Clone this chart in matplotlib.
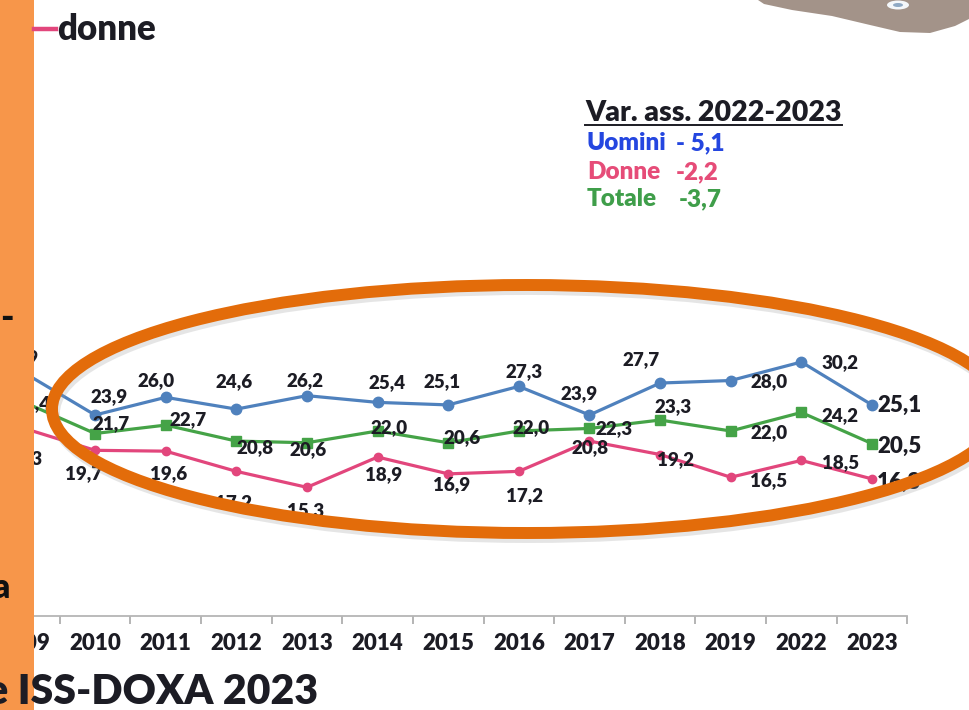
import matplotlib
matplotlib.use("Agg")
import matplotlib.pyplot as plt
from matplotlib.patches import Ellipse, Rectangle, Polygon
from matplotlib.lines import Line2D

plt.rcParams['font.family'] = ['Lato', 'DejaVu Sans']

# ---- data -------------------------------------------------------------
years = ['2009', '2010', '2011', '2012', '2013', '2014', '2015',
         '2016', '2017', '2018', '2019', '2022', '2023']
uomini = [28.9, 23.9, 26.0, 24.6, 26.2, 25.4, 25.1, 27.3, 23.9, 27.7, 28.0, 30.2, 25.1]
donne = [22.3, 19.7, 19.6, 17.2, 15.3, 18.9, 16.9, 17.2, 20.8, 19.2, 16.5, 18.5, 16.3]
totale = [25.4, 21.7, 22.7, 20.8, 20.6, 22.0, 20.6, 22.0, 22.3, 23.3, 22.0, 24.2, 20.5]

var_title = 'Var. ass. 2022-2023'
var_names = ['Uomini', 'Donne', 'Totale']
var_values = ['- 5,1', '-2,2', '-3,7']

legend_label = 'donne'
source_label = 'Indagine ISS-DOXA 2023'

# ---- styling ----------------------------------------------------------
C_BLUE = '#4F81BD'
C_PINK = '#E2467C'
C_GREEN = '#45A347'
C_TEXT = '#1C1C24'
C_ORANGE_BAR = '#F7964A'
C_RING = '#E36C0A'
var_colors = ['#2446E0', '#E64C78', '#3F9E4A']
HEAVY = 'heavy'

# label offsets in pixels (dx right, dy down) from each point
off_u = [(-4, -15), (14, -18), (-10, -17), (-2, -28), (-2, -15), (9, -20), (-6, -23),
         (5, -15), (-10, -21), (-19, -23), (38, 1), (39, 1), (5, 0)]
off_t = [(8, 1), (16, -10), (22, -5), (19, 7), (1, 7), (11, -3), (14, -5),
         (12, -3), (25, 0), (13, -13), (38, 2), (39, 3), (5, 3)]
off_d = [(0, 30), (-11, 23), (3, 22), (-3, 31), (-1, 23), (6, 18), (3, 11),
         (6, 24), (1, 7), (15, 5), (38, 3), (39, 2), (5, 3)]

W, H = 969, 710
fig = plt.figure(figsize=(W / 100, H / 100), dpi=100)
fig.patch.set_facecolor('white')

# main chart axes (pixel geometry: x from -11 to 907, baseline at y=616)
px_per_unit = 8.41
ymax = 40
ax_left, ax_right, ax_base = -10.9, 907.3, 616
ax = fig.add_axes([ax_left / W, (H - ax_base) / H,
                   (ax_right - ax_left) / W, ymax * px_per_unit / H])
ax.set_xlim(-0.5, len(years) - 0.5)
ax.set_ylim(0, ymax)
ax.patch.set_alpha(0)
for s in ['top', 'right', 'left']:
    ax.spines[s].set_visible(False)
ax.spines['bottom'].set_color('#B5B5B5')
ax.spines['bottom'].set_linewidth(1.3)
ax.set_yticks([])

x = list(range(len(years)))
ax.set_xticks(x)
ax.set_xticklabels(years, fontsize=16, fontweight=HEAVY, color=C_TEXT)
ax.tick_params(axis='x', which='major', length=0, pad=12)
ax.set_xticks([i - 0.5 for i in range(len(years) + 1)], minor=True)
ax.tick_params(axis='x', which='minor', length=6, width=1.2, color='#A8A8A8', direction='out')

series = [
    (uomini, C_BLUE, 'o', 7.5, off_u),
    (totale, C_GREEN, 's', 7, off_t),
    (donne, C_PINK, 'o', 6, off_d),
]
for vals, col, mk, ms, offs in series:
    ax.plot(x, vals, color=col, lw=2.3, marker=mk, ms=ms, mec=col, mfc=col,
            clip_on=False, zorder=3)
    for i, v in enumerate(vals):
        dx, dy = offs[i]
        last = i == len(vals) - 1
        ax.annotate(f'{v:.1f}'.replace('.', ','), (x[i], v),
                    xytext=(dx, -dy), textcoords='offset pixels',
                    ha='left' if last else 'center', va='center',
                    fontsize=16 if last else 13.5, fontweight=HEAVY,
                    color=C_TEXT, zorder=4, annotation_clip=False)

# ---- overlay in pixel coordinates --------------------------------------
ov = fig.add_axes([0, 0, 1, 1], zorder=10)
ov.set_xlim(0, W)
ov.set_ylim(H, 0)
ov.axis('off')

# highlight ring with soft shadow
ov.add_patch(Ellipse((529, 413), 950, 248, fill=False, lw=8.6,
                     ec='#9A9A9A', alpha=0.25))
ov.add_patch(Ellipse((527, 409), 950, 248, fill=False, lw=8.6, ec=C_RING))

# orange side band
ov.add_patch(Rectangle((0, 0), 34, H, color=C_ORANGE_BAR, lw=0, zorder=5))
ov.text(14, 318, '-', fontsize=26, fontweight=HEAVY, color='#111111',
        ha='right', va='center', zorder=6)
ov.text(10, 588, 'a', fontsize=24, fontweight=HEAVY, color='#111111',
        ha='right', va='center', zorder=6)

# legend fragment
ov.add_line(Line2D([34, 56], [29, 29], color=C_PINK, lw=3.2, zorder=6))
ov.text(57, 29, legend_label, fontsize=25, fontweight=HEAVY, color=C_TEXT,
        ha='left', va='center')

# source line
ov.text(318, 692, source_label, fontsize=29.5, fontweight=HEAVY, color=C_TEXT,
        ha='right', va='center', zorder=6)

# variation box
ov.text(585, 121, var_title, fontsize=20.5, fontweight=HEAVY, color=C_TEXT,
        ha='left', va='baseline')
ov.add_line(Line2D([585, 842], [125, 125], color=C_TEXT, lw=1.4))
name_y = [143, 172, 199]
value_x = [676, 676, 679]
for nm, val, col, yy, vx in zip(var_names, var_values, var_colors, name_y, value_x):
    ov.text(587, yy, nm, fontsize=17.5, fontweight=HEAVY, color=col, ha='left', va='center')
    ov.text(vx, yy, val, fontsize=17.5, fontweight=HEAVY, color=col, ha='left', va='center')

# picture frame corner at top right
ov.add_patch(Polygon([(758, 0), (764, 4), (792, 10), (832, 16), (870, 25), (900, 32),
                      (930, 33), (955, 26), (969, 19), (969, 0)],
                     closed=True, fc='#A39389', ec='none'))
ov.add_patch(Ellipse((898, 5), 22, 9, fc='#F4F7FA', ec='none'))
ov.add_patch(Ellipse((898, 5), 10, 4, fc='#8FA9C4', ec='none'))

fig.savefig('out.png', dpi=100, facecolor='white')
